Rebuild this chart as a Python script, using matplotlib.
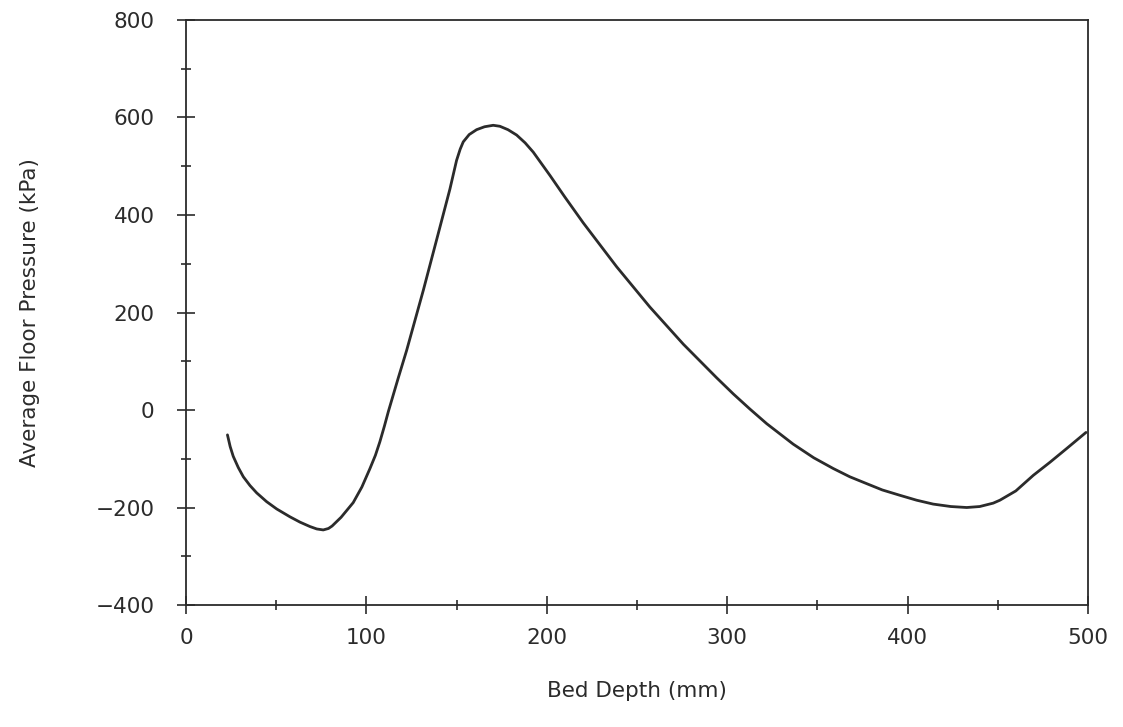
import matplotlib
matplotlib.use("Agg")
import matplotlib.pyplot as plt
from matplotlib.ticker import MultipleLocator

# Data
bed_depth_mm = [23.0, 24.5, 26.2, 29.0, 31.8, 35.5, 39.2, 44.7, 50.3, 57.6, 63.2, 68.7,
                72.5, 76.1, 79.0, 81.0, 86.0, 92.7, 97.5, 102.0, 105.0, 107.5, 110.0,
                112.2, 117.7, 122.3, 131.6, 139.0, 146.3, 150.0, 152.0, 153.7, 157.0,
                161.1, 165.5, 170.3, 174.0, 178.5, 183.3, 188.0, 192.5, 201.8, 210.0,
                220.2, 238.7, 257.2, 275.7, 294.2, 303.4, 312.6, 321.9, 336.6, 348.0,
                358.8, 368.0, 377.3, 386.0, 395.8, 405.0, 414.2, 424.0, 432.8, 440.0,
                447.5, 451.2, 460.0, 469.7, 479.0, 488.2, 498.9]
floor_pressure_kpa = [-51, -75, -95, -118, -137, -155, -170, -188, -203, -219, -230, -239,
                      -244, -246, -243, -238, -220, -190, -158, -120, -93, -65, -33,
                      -3, 66, 122, 246, 350, 453, 512, 535, 550, 565,
                      575, 581, 584, 582, 575, 564, 548, 529, 481, 437,
                      384, 294, 211, 135, 66, 33, 2, -28, -70, -98,
                      -120, -137, -151, -164, -175, -185, -193, -198, -200, -198,
                      -191, -185, -166, -134, -107, -79, -46]

x_ticks = [0, 100, 200, 300, 400, 500]
y_ticks = [-400, -200, 0, 200, 400, 600, 800]

ink = "#2b2b2b"
plt.rcParams['font.family'] = ['DejaVu Sans']

fig = plt.figure(figsize=(11.23, 7.27), dpi=100)
ax = fig.add_axes([0.1656, 0.1678, 0.8032, 0.8047])

ax.plot(bed_depth_mm, floor_pressure_kpa, color=ink, linewidth=2.0,
        solid_joinstyle='round', solid_capstyle='round')

ax.set_xlim(0, 500)
ax.set_ylim(-400, 800)
ax.set_xticks(x_ticks)
ax.set_yticks(y_ticks)
ax.xaxis.set_minor_locator(MultipleLocator(50))
ax.yaxis.set_minor_locator(MultipleLocator(100))
ax.set_yticklabels([str(v).replace('-', '\u2212') for v in y_ticks])

for s in ax.spines.values():
    s.set_color(ink)
    s.set_linewidth(1.3)

ax.tick_params(which='major', direction='inout', length=13, width=1.2,
               color=ink, labelsize=15.5, labelcolor=ink,
               top=False, right=False)
ax.tick_params(which='minor', direction='inout', length=7, width=1.2,
               color=ink, top=False, right=False)
ax.tick_params(axis='x', which='major', pad=10)
ax.tick_params(axis='y', which='major', pad=16)

ax.set_xlabel("Bed Depth (mm)", fontsize=15.5, color=ink, labelpad=24)
ax.set_ylabel("Average Floor Pressure (kPa)", fontsize=15.5, color=ink, labelpad=40)

fig.savefig("out.png", dpi=100, facecolor="white")
